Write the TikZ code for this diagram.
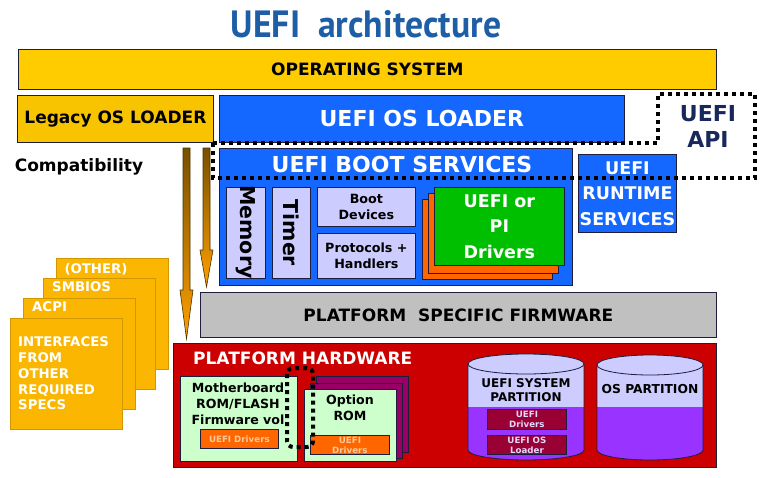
\documentclass[tikz,border=0pt]{standalone}
\usepackage{fontspec}
\setmainfont{DejaVu Sans}
\newfontfamily\titlefont{PT Sans}[FakeStretch=0.94]
\usetikzlibrary{positioning}

\definecolor{osyellow}{RGB}{255,204,0}
\definecolor{legyellow}{RGB}{248,196,0}
\definecolor{uefiblue}{RGB}{20,104,255}
\definecolor{lavender}{RGB}{204,204,255}
\definecolor{drvgreen}{RGB}{0,190,0}
\definecolor{drvorange}{RGB}{255,102,0}
\definecolor{fwgray}{RGB}{192,192,192}
\definecolor{hwred}{RGB}{204,0,0}
\definecolor{mbgreen}{RGB}{204,255,204}
\definecolor{rommaroon}{RGB}{153,0,102}
\definecolor{partpurple}{RGB}{153,51,255}
\definecolor{partbox}{RGB}{153,0,51}
\definecolor{cardyellow}{RGB}{250,182,0}
\definecolor{cardedge}{RGB}{210,150,0}
\definecolor{titleblue}{RGB}{30,94,166}
\definecolor{apinavy}{RGB}{25,40,90}
\definecolor{edge}{RGB}{30,30,60}
\definecolor{arrowbrown}{RGB}{120,80,0}
\definecolor{arroworange}{RGB}{255,160,0}
\definecolor{tinypeach}{RGB}{255,200,150}
\definecolor{tinylav}{RGB}{225,215,255}

\tikzset{
  blk/.style={draw=edge, line width=0.8pt, inner sep=0pt, anchor=north west, align=center},
  txtbig/.style={font=\bfseries\fontsize{17}{20}\selectfont, align=center},
  txthuge/.style={font=\bfseries\fontsize{22}{26}\selectfont, align=center},
  txtmid/.style={font=\bfseries\fontsize{17.5}{25.5}\selectfont, align=center},
  txtsmall/.style={font=\bfseries\fontsize{12.7}{16}\selectfont, align=center},
  txttiny/.style={font=\bfseries\fontsize{8.7}{10}\selectfont, align=center},
  cardbox/.style={blk, fill=cardyellow, draw=cardedge, line width=1.2pt, minimum width=112pt, minimum height=111pt},
  cardtxt/.style={text=white, font=\bfseries\fontsize{13.3}{15.7}\selectfont, inner sep=0pt, align=left},
  apiline/.style={line width=4pt, dash pattern=on 4pt off 4pt, draw=black},
  fatarrow/.style={draw=arrowbrown!60!black, line width=0.6pt, top color=arrowbrown, bottom color=arroworange},
  cylline/.style={draw=edge, line width=0.8pt},
}

\begin{document}
\begin{tikzpicture}[x=1pt,y=1pt,yscale=-1,xscale=1]
\useasboundingbox (0,0) rectangle (763,477);

% Title
\node (title) [text=titleblue, font=\titlefont\bfseries\fontsize{38}{40}\selectfont, inner sep=0pt] at (366,24) {UEFI\ \ architecture};

% Loaders
\node (os) [blk, txtbig, fill=osyellow, minimum width=698pt, minimum height=40pt] at (18,49) {OPERATING SYSTEM};
\node (legacy) [blk, txtbig, fill=legyellow, minimum width=196pt, minimum height=47pt] at (17,95) {Legacy OS LOADER};
\node (osldr) [blk, txthuge, fill=uefiblue, text=white, minimum width=405pt, minimum height=47pt] at (219,95) {UEFI OS LOADER};
\node (compat) [txtbig, inner sep=0pt] at (79,167) {Compatibility};

% Boot services
\node (boot) [blk, fill=uefiblue, minimum width=353pt, minimum height=137pt] at (219,148) {};
\node (bootlbl) [txthuge, text=white, inner sep=0pt] at (402,164) {UEFI BOOT SERVICES};
\node (mem) [blk, fill=lavender, minimum width=39pt, minimum height=91pt] at (226,187) {};
\node (memlbl) [font=\bfseries\fontsize{20.5}{22}\selectfont, rotate=-90, inner sep=0pt] at ([yshift=-1pt]mem.center) {Memory};
\node (timer) [blk, fill=lavender, minimum width=38pt, minimum height=91pt] at (272,187) {};
\node (timerlbl) [font=\bfseries\fontsize{20.5}{22}\selectfont, rotate=-90, inner sep=0pt] at (timer.center) {Timer};
\node (bootdev) [blk, txtsmall, fill=lavender, minimum width=98pt, minimum height=39pt] at (317,187) {Boot\\Devices};
\node (proto) [blk, txtsmall, fill=lavender, minimum width=98pt, minimum height=45pt] at (317,233) {Protocols +\\Handlers};
\node (drvback) [blk, fill=drvorange, minimum width=130pt, minimum height=80pt] at (422,199) {};
\node (drvmid) [blk, fill=drvorange, minimum width=130pt, minimum height=80pt] at (428,193) {};
\node (drv) [blk, txtmid, fill=drvgreen, text=white, minimum width=130pt, minimum height=78pt] at (434,187) {UEFI or\\PI\\Drivers};

% Runtime services
\node (rt) [blk, txtmid, fill=uefiblue, text=white, minimum width=98pt, minimum height=78pt] at (578,154) {UEFI\\RUNTIME\\SERVICES};

% UEFI API outline
\draw [apiline] (213,143) -- (658,143) -- (658,94) -- (755,94) -- (755,178) -- (213,178) -- cycle;
\node (api) [txthuge, text=apinavy, inner sep=0pt] at (708,126) {UEFI\\API};

% Compatibility arrows
\path [fatarrow] (183,148) -- (190,148) -- (190,290) -- (193,290) -- (186.5,339) -- (180,290) -- (183,290) -- cycle;
\path [fatarrow] (203,148) -- (210,148) -- (210,250) -- (213,250) -- (206.5,287) -- (200,250) -- (203,250) -- cycle;

% Firmware and hardware
\node (fw) [blk, txtbig, fill=fwgray, minimum width=516pt, minimum height=45pt] at (200,292) {PLATFORM\ \ SPECIFIC FIRMWARE};
\node (hw) [blk, fill=hwred, minimum width=543pt, minimum height=124pt] at (173,343) {};
\node (hwlbl) [txtbig, text=white, anchor=west, inner sep=0pt] at (193,358) {PLATFORM HARDWARE};

\node (mb) [blk, fill=mbgreen, minimum width=117pt, minimum height=85pt] at (180,376) {};
\node (mblbl) [font=\bfseries\fontsize{12.6}{15.8}\selectfont, align=center, inner sep=0pt] at (238,404) {Motherboard\\ROM/FLASH\\Firmware vol};
\node (mbdrv) [blk, txttiny, fill=drvorange, text=tinypeach, minimum width=78pt, minimum height=19pt] at (200,429) {UEFI Drivers};

\node (romback) [blk, fill=rommaroon, minimum width=92pt, minimum height=76pt] at (316,376) {};
\node (rommid) [blk, fill=rommaroon, minimum width=92pt, minimum height=75pt] at (310,383) {};
\node (rom) [blk, fill=mbgreen, minimum width=92pt, minimum height=72pt] at (304,389) {};
\node (romlbl) [font=\bfseries\fontsize{12.6}{15.5}\selectfont, align=center, inner sep=0pt] at (350,408) {Option\\ROM};
\node (romdrv) [blk, txttiny, fill=drvorange, text=tinypeach, minimum width=79pt, minimum height=19pt] at (310,435) {UEFI\\Drivers};
\draw [apiline, rounded corners=6pt] (287,368) rectangle (313,447);

% UEFI system partition
\fill [partpurple] (468,407) rectangle (584,450);
\fill [partpurple] (526,450) ellipse [x radius=58, y radius=10];
\fill [lavender] (468,364) rectangle (584,407);
\draw [cylline, fill=lavender] (526,364) ellipse [x radius=58, y radius=10];
\draw [cylline] (468,364) -- (468,450) arc [start angle=180, end angle=0, x radius=58, y radius=10] -- (584,364);
\node (syslbl) [font=\bfseries\fontsize{12}{14}\selectfont, align=center, inner sep=0pt] at (526,390) {UEFI SYSTEM\\PARTITION};
\node (sysdrv) [blk, txttiny, fill=partbox, text=tinylav, minimum width=79pt, minimum height=20pt] at (487,409) {UEFI\\Drivers};
\node (sysldr) [blk, txttiny, fill=partbox, text=tinylav, minimum width=79pt, minimum height=19pt] at (487,435) {UEFI OS\\Loader};

% OS partition
\fill [partpurple] (597,407) rectangle (703,450);
\fill [partpurple] (650,450) ellipse [x radius=53, y radius=10];
\fill [lavender] (597,365) rectangle (703,407);
\draw [cylline, fill=lavender] (650,365) ellipse [x radius=53, y radius=10];
\draw [cylline] (597,365) -- (597,450) arc [start angle=180, end angle=0, x radius=53, y radius=10] -- (703,365);
\node (oslbl) [font=\bfseries\fontsize{12.3}{14}\selectfont, inner sep=0pt] at (650,389) {OS PARTITION};

% Interface cards
\node (other) [cardbox] at (56,258) {};
\node (smbios) [cardbox] at (43,278) {};
\node (acpi) [cardbox] at (23,298) {};
\node (iface) [cardbox] at (10,318) {};
\node (otherlbl) [cardtxt] at (96,269) {(OTHER)};
\node (smbioslbl) [cardtxt, anchor=west] at (52,287) {SMBIOS};
\node (acpilbl) [cardtxt, anchor=west] at (32,307) {ACPI};
\node (ifacelbl) [cardtxt, anchor=west] at (18,373.5) {INTERFACES\\FROM\\OTHER\\REQUIRED\\SPECS};

\end{tikzpicture}
\end{document}
